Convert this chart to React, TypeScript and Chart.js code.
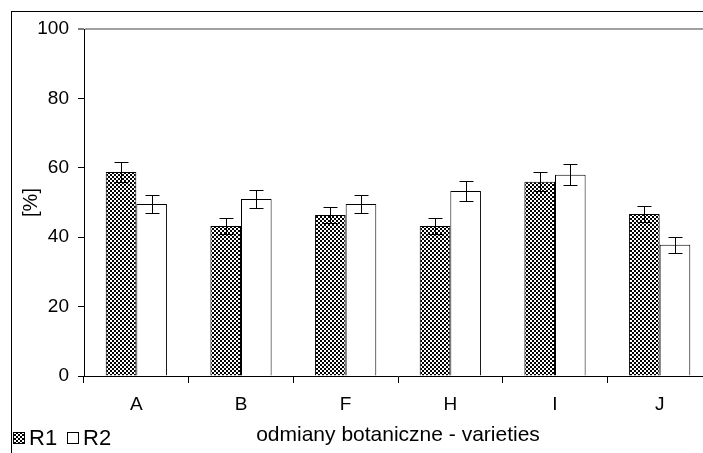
import React, { useEffect, useRef } from "react";
import { Chart, registerables } from "chart.js";

Chart.register(...registerables);

const categories = ["A", "B", "F", "H", "I", "J"];
const seriesLabels = ["R1", "R2"];
const r1Values = [58.8, 43.2, 46.4, 43.2, 56.0, 46.7];
const r2Values = [49.6, 51.0, 49.6, 53.3, 58.0, 37.8];
const r1Errors = [2.8, 2.3, 2.3, 2.3, 2.8, 2.4];
const r2Errors = [2.5, 2.6, 2.5, 2.8, 3.0, 2.4];
const yMin = 0;
const yMax = 100;
const yStep = 20;
const xTitle = "odmiany botaniczne - varieties";
const yTitle = "[%]";

const W = 740;
const H = 470;
const FONT = "'Liberation Sans', Arial, sans-serif";

function makePattern(): CanvasPattern | string {
  const c = document.createElement("canvas");
  c.width = 4;
  c.height = 4;
  const g = c.getContext("2d");
  if (!g) return "#555";
  g.fillStyle = "#fff";
  g.fillRect(0, 0, 4, 4);
  g.fillStyle = "#000";
  g.fillRect(0, 0, 2, 2);
  g.fillRect(2, 2, 2, 2);
  const p = g.createPattern(c, "repeat");
  return p || "#555";
}

export default function App() {
  const ref = useRef<HTMLCanvasElement | null>(null);

  useEffect(() => {
    if (!ref.current) return;
    const pattern = makePattern();
    const errors = [r1Errors, r2Errors];

    const framePlugin = {
      id: "frame",
      beforeDraw(chart: any) {
        const ctx = chart.ctx;
        ctx.save();
        ctx.fillStyle = "#fff";
        ctx.fillRect(0, 0, chart.width, chart.height);
        ctx.strokeStyle = "#000";
        ctx.lineWidth = 1;
        ctx.strokeRect(11.5, 11.5, chart.width + 50, chart.height + 50);
        ctx.restore();
      },
    };

    const errorPlugin = {
      id: "errorBars",
      afterDatasetsDraw(chart: any) {
        const ctx = chart.ctx;
        const y = chart.scales.y;
        ctx.save();
        ctx.strokeStyle = "#000";
        ctx.lineWidth = 1;
        chart.data.datasets.forEach((ds: any, i: number) => {
          const meta = chart.getDatasetMeta(i);
          meta.data.forEach((bar: any, j: number) => {
            const v = ds.data[j];
            const e = errors[i][j];
            const x = Math.round(bar.x) + 0.5;
            const yt = Math.round(y.getPixelForValue(v + e)) + 0.5;
            const yb = Math.round(y.getPixelForValue(v - e)) + 0.5;
            ctx.beginPath();
            ctx.moveTo(x, yt);
            ctx.lineTo(x, yb);
            ctx.moveTo(x - 7, yt);
            ctx.lineTo(x + 7, yt);
            ctx.moveTo(x - 7, yb);
            ctx.lineTo(x + 7, yb);
            ctx.stroke();
          });
        });
        ctx.restore();
      },
    };

    const legendPlugin = {
      id: "customLegend",
      afterDraw(chart: any) {
        const ctx = chart.ctx;
        ctx.save();
        ctx.font = `22px ${FONT}`;
        ctx.textBaseline = "middle";
        ctx.fillStyle = "#000";
        const cy = 438;
        const items = [
          { bx: 13, tx: 29 },
          { bx: 67, tx: 83 },
        ];
        chart.data.datasets.forEach((ds: any, i: number) => {
          const it = items[i];
          ctx.fillStyle = ds.backgroundColor;
          ctx.fillRect(it.bx, cy - 6, 12, 12);
          ctx.strokeStyle = "#000";
          ctx.lineWidth = 1;
          ctx.strokeRect(it.bx + 0.5, cy - 5.5, 11, 11);
          ctx.fillStyle = "#000";
          ctx.fillText(ds.label, it.tx, cy + 1);
        });
        ctx.restore();
      },
    };

    const chart = new Chart(ref.current, {
      type: "bar",
      data: {
        labels: categories,
        datasets: [
          {
            label: seriesLabels[0],
            data: r1Values,
            backgroundColor: pattern as any,
            borderColor: "#000",
            borderWidth: 1,
            categoryPercentage: 0.585,
            barPercentage: 1,
          },
          {
            label: seriesLabels[1],
            data: r2Values,
            backgroundColor: "#fff",
            borderColor: "#000",
            borderWidth: 1,
            categoryPercentage: 0.585,
            barPercentage: 1,
          },
        ],
      },
      options: {
        responsive: false,
        animation: false,
        devicePixelRatio: 1,
        layout: { padding: { top: 29, left: 0, right: W - 712, bottom: 0 } },
        plugins: {
          legend: { display: false },
          tooltip: { enabled: false },
          title: { display: false },
        },
        scales: {
          x: {
            afterFit(scale: any) {
              scale.height = H - 376;
            },
            grid: {
              offset: true,
              drawOnChartArea: false,
              color: "#000",
              tickColor: "#000",
              tickLength: 7,
            },
            border: { display: true, color: "#000", width: 1 },
            ticks: {
              color: "#000",
              font: { family: FONT, size: 19 },
              padding: 10,
            },
            title: {
              display: true,
              text: xTitle,
              color: "#000",
              font: { family: FONT, size: 21 },
              padding: { top: 0, bottom: 22 },
            },
          },
          y: {
            min: yMin,
            max: yMax,
            afterFit(scale: any) {
              scale.width = 84;
            },
            grid: {
              color: (c: any) =>
                c.tick && c.tick.value === yMax ? "#a0a0a0" : "rgba(0,0,0,0)",
              lineWidth: (c: any) => (c.tick && c.tick.value === yMax ? 2 : 1),
              tickColor: "#000",
              tickWidth: 1,
              tickLength: 6,
            },
            border: { display: true, color: "#000", width: 1 },
            ticks: {
              stepSize: yStep,
              color: "#000",
              font: { family: FONT, size: 19 },
              padding: 9,
            },
            title: {
              display: true,
              text: yTitle,
              color: "#000",
              font: { family: FONT, size: 20 },
              padding: { top: 19, bottom: 0 },
            },
          },
        },
      },
      plugins: [framePlugin, errorPlugin, legendPlugin],
    });
    return () => chart.destroy();
  }, []);

  return (
    <div
      style={{
        position: "fixed",
        left: 0,
        top: 0,
        width: 703,
        height: 453,
        overflow: "hidden",
        background: "#fff",
      }}
    >
      <canvas
        ref={ref}
        width={W}
        height={H}
        style={{ position: "absolute", left: 0, top: 0, width: W, height: H }}
      />
    </div>
  );
}
